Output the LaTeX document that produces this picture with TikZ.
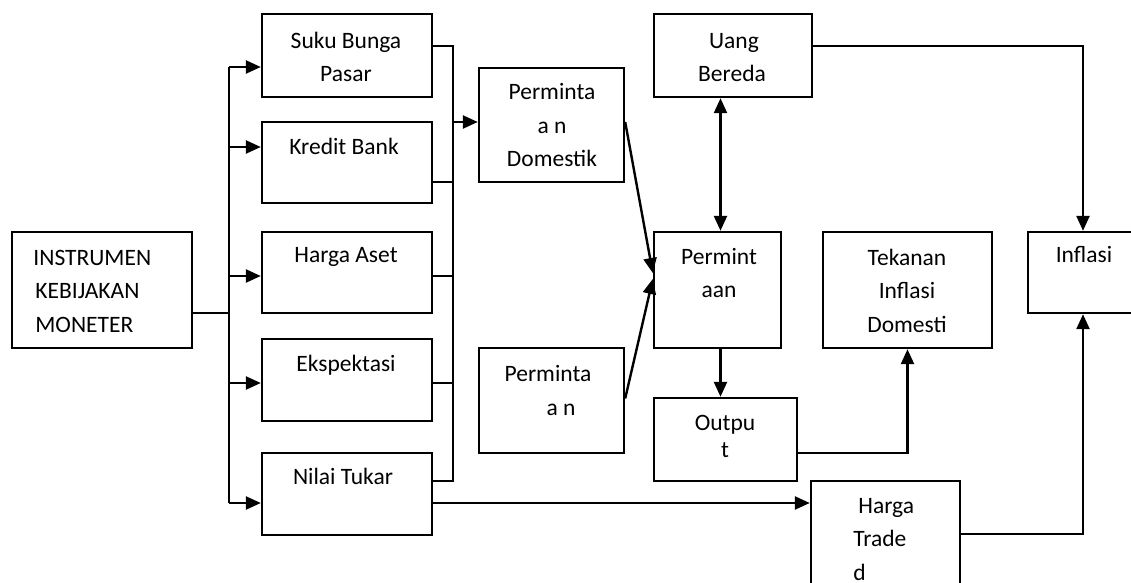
\documentclass[tikz,border=0pt]{standalone}
\usepackage{fontspec}
\setmainfont{Carlito}
\usetikzlibrary{arrows.meta,fit}

\begin{document}
\begin{tikzpicture}[x=0.5pt,y=-0.5pt,
  box/.style={draw, line width=1.2pt, inner sep=0pt},
  txt/.style={inner sep=0pt, font=\fontsize{11.75}{16.75}\selectfont, align=center, anchor=base},
  txtl/.style={txt, align=left, anchor=base west},
  link/.style={line width=1.2pt},
  arr/.style={link, -{Triangle[length=7.5pt,width=6.5pt]}},
  darr/.style={link, {Triangle[length=7.5pt,width=6.5pt]}-{Triangle[length=7.5pt,width=6.5pt]}}]
\useasboundingbox (0,0) rectangle (1131,583);
\fill[white] (0,0) rectangle (1131,583);
\clip (0,0) rectangle (1131,583);

% boxes
\node[box, fit={(12,232) (192,348)}] (instr) {};
\node[box, fit={(262,14) (432,97)}] (suku) {};
\node[box, fit={(262,122) (432,203)}] (kredit) {};
\node[box, fit={(262,232) (432,313)}] (aset) {};
\node[box, fit={(262,339) (432,421)}] (ekspek) {};
\node[box, fit={(262,453) (432,535)}] (nilai) {};
\node[box, fit={(479,68) (624,182)}] (pdom) {};
\node[box, fit={(479,348) (624,453)}] (pln) {};
\node[box, fit={(654,14) (812,97)}] (uang) {};
\node[box, fit={(654,232) (781,348)}] (pmt) {};
\node[box, fit={(654,398) (797,481)}] (output) {};
\node[box, fit={(823,232) (992,348)}] (tekanan) {};
\node[box, fit={(1028,232) (1138,313)}] (inflasi) {};
\node[box, fit={(811,481) (960,610)}] (harga) {};

% texts (multi-line texts are placed by the baseline of their last line)
\node[txtl] (tinstr) at (33,332) {INSTRUMEN\\\hspace*{1pt}KEBIJAKAN\\\hspace*{1pt}MONETER};
\node[txt] (tsuku) at (346,82) {Suku Bunga\\Pasar};
\node[txt] (tkredit) at (344,155) {Kredit Bank};
\node[txt] (taset) at (346,263) {Harga Aset};
\node[txt] (tekspek) at (346,371) {Ekspektasi};
\node[txt] (tnilai) at (343,484) {Nilai Tukar};
\node[txt] (tpdom) at (552,167) {Perminta\\a n\\Domestik};
\node[txt] (tpln) at (548,415) {Perminta\\\hspace*{13pt}a n};
\node[txt] (tuang) at (732,82) {\hspace*{2pt}Uang\\Bereda};
\node[txt] (tpmt) at (719,298) {Permint\\aan};
\node[txt] (toutput) at (725,457) {Outpu\\[-3.25pt]t};
\node[txt] (ttekanan) at (907,332) {Tekanan\\Inflasi\\Domesti};
\node[txt] (tinflasi) at (1084,263) {Inflasi};
\node[txtl] (tharga) at (853,580) {\hspace*{2.5pt}Harga\\Trade\\d};

% left bus: instrument to the five channels
\coordinate (bm) at (229,313);
\coordinate (b1) at (229,67);
\coordinate (b2) at (229,147);
\coordinate (b3) at (229,276);
\coordinate (b4) at (229,383);
\coordinate (b5) at (229,503);
\draw[link] (bm -| instr.east) -- (bm);
\draw[link] (b1) -- (b5);
\draw[arr] (b1) -- (b1 -| suku.west);
\draw[arr] (b2) -- (b2 -| kredit.west);
\draw[arr] (b3) -- (b3 -| aset.west);
\draw[arr] (b4) -- (b4 -| ekspek.west);
\draw[arr] (b5) -- (b5 -| nilai.west);

% right bus: channels into domestic demand
\coordinate (r1) at (453,46);
\coordinate (r2) at (453,182);
\coordinate (r3) at (453,276);
\coordinate (r4) at (453,383);
\coordinate (r5) at (453,481);
\coordinate (rm) at (453,122);
\draw[link] (r1 -| suku.east) -- (r1) -- (r5) -- (r5 -| nilai.east);
\draw[link] (r2 -| kredit.east) -- (r2);
\draw[link] (r3 -| aset.east) -- (r3);
\draw[link] (r4 -| ekspek.east) -- (r4);
\draw[arr] (rm) -- (rm -| pdom.west);

% demand block
\draw[arr] ([yshift=1.5pt]pdom.east) -- ([yshift=8.5pt]pmt.west);
\draw[arr] ([yshift=1pt]pln.east) -- ([yshift=5.5pt]pmt.west);
\draw[darr] ([xshift=1.5pt]pmt.north) -- ([xshift=1.5pt]pmt.north |- uang.south);
\draw[arr] ([xshift=1.5pt]pmt.south) -- ([xshift=1.5pt]pmt.south |- output.north);

% to inflation
\draw[arr] ([yshift=4.75pt]uang.east) -| (inflasi.north);
\draw[arr] ([yshift=-6.75pt]output.east) -| (tekanan.south);
\draw[arr] (b5 -| nilai.east) -- (b5 -| harga.west);
\draw[arr] ([yshift=-27pt]harga.north east) -| (inflasi.south);
\end{tikzpicture}
\end{document}
